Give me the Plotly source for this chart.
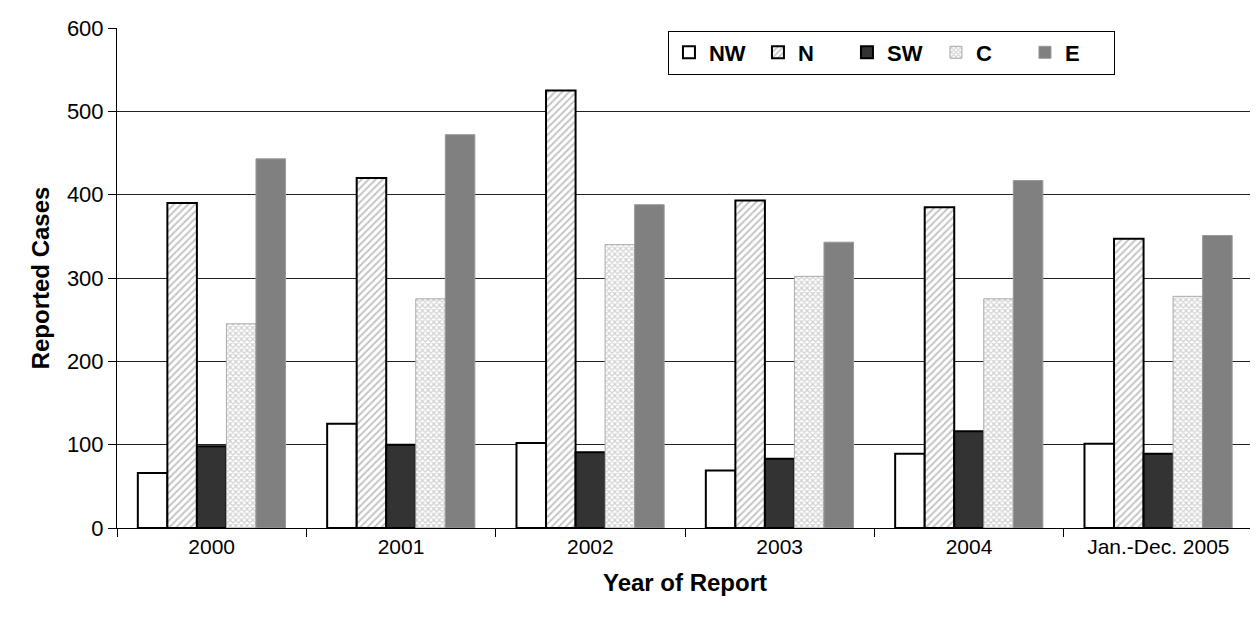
import plotly.graph_objects as go

categories = ["2000", "2001", "2002", "2003", "2004", "Jan.-Dec. 2005"]
nw = [66, 125, 102, 69, 89, 101]
n = [390, 420, 525, 393, 385, 347]
sw = [98, 100, 91, 83, 116, 89]
c = [245, 275, 340, 302, 275, 278]
e = [443, 472, 388, 343, 417, 351]

fig = go.Figure()
fig.add_trace(go.Bar(name="NW", x=categories, y=nw,
                     marker=dict(color="white", line=dict(color="black", width=2))))
fig.add_trace(go.Bar(name="N", x=categories, y=n,
                     marker=dict(color="white", line=dict(color="black", width=2),
                                 pattern=dict(shape="/", fgcolor="#8a8a8a", bgcolor="white",
                                              size=5, solidity=0.4))))
fig.add_trace(go.Bar(name="SW", x=categories, y=sw,
                     marker=dict(color="#333333", line=dict(color="black", width=2))))
fig.add_trace(go.Bar(name="C", x=categories, y=c,
                     marker=dict(color="white", line=dict(color="#aaaaaa", width=1),
                                 pattern=dict(shape="x", fgcolor="#a0a0a0", bgcolor="white",
                                              size=4, solidity=0.5))))
fig.add_trace(go.Bar(name="E", x=categories, y=e,
                     marker=dict(color="#808080", line=dict(color="#999999", width=1))))

fig.update_layout(
    width=1258, height=618,
    margin=dict(l=109, r=13, t=20, b=98, autoexpand=False),
    paper_bgcolor="white", plot_bgcolor="white",
    barmode="group", bargap=0.22, bargroupgap=0,
    font=dict(family="Liberation Sans, Arial, sans-serif", size=21, color="black"),
    legend=dict(orientation="h", x=0.485, y=0.995, xanchor="left", yanchor="top",
                bordercolor="black", borderwidth=1, bgcolor="white",
                font=dict(size=22, family="Liberation Sans, Arial, sans-serif", weight="bold"),
                itemwidth=30, traceorder="normal", entrywidth=44,
                tracegroupgap=0, valign="middle"),
    showlegend=True,
)
fig.update_xaxes(
    showline=True, linecolor="black", linewidth=1,
    ticks="outside", tickson="boundaries", ticklen=8, tickcolor="black",
    title=dict(text="<b>Year of Report</b>", font=dict(size=24), standoff=16),
    tickfont=dict(size=21),
)
fig.update_yaxes(
    range=[0, 600], dtick=100, showline=True, linecolor="black", linewidth=1,
    ticks="outside", ticklen=8, tickcolor="black",
    showgrid=True, gridcolor="#222222", gridwidth=1,
    title=dict(text="<b>Reported Cases</b>", font=dict(size=24), standoff=10),
    tickfont=dict(size=22),
)

fig.write_html("out.html")
